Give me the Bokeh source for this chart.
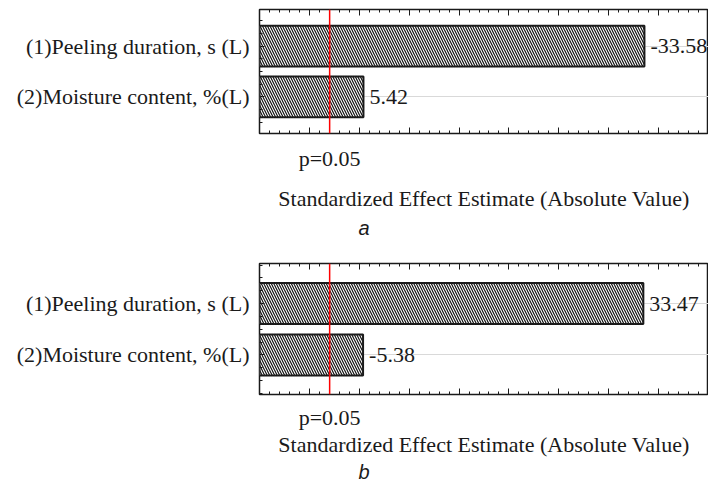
from bokeh.plotting import figure
from bokeh.models import (Range1d, FixedTicker, LinearAxis, Span, ColumnDataSource,
                          Title, Grid)
from bokeh.layouts import column
from bokeh.embed import file_html
from bokeh.resources import INLINE
from bokeh.core.properties import value

# ---- data ----
factors = ["(1)Peeling duration, s (L)", "(2)Moisture content, %(L)"]
factor_pos = [1, 2]
effects_a = [-33.58, 5.42]
effects_b = [33.47, -5.38]
p_crit = 2.03
p_label = "p=0.05"
x_min, x_max = -5, 40
x_major = [-5, 0, 5, 10, 15, 20, 25, 30, 35, 40]
x_minor = list(range(-5, 41))
y_minor = [0.25, 0.5, 0.75, 1.25, 1.5, 1.75, 2.25, 2.5, 2.75]
panel_tags = ["a", "b"]
x_title = "Standardized Effect Estimate (Absolute Value)"

SERIF = "Liberation Serif"
TXT = "#1a1a1a"


def make_panel(effects, tag, height, y_lo, y_hi, top_border, bottom_border,
               tick_standoff, label_standoff, title_standoff):
    p = figure(width=708, height=height,
               x_range=Range1d(x_min, x_max), y_range=Range1d(y_hi, y_lo),
               x_axis_type=None, y_axis_type=None,
               output_backend="svg", toolbar_location=None,
               min_border_left=259, min_border_right=0,
               min_border_top=top_border, min_border_bottom=bottom_border)
    p.outline_line_color = "#1a1a1a"
    p.outline_line_width = 1.5
    p.background_fill_color = "white"
    p.border_fill_color = "white"

    grid = Grid(dimension=1, ticker=FixedTicker(ticks=factor_pos),
                grid_line_color="#d9d9d9", grid_line_width=1)
    p.add_layout(grid, "center")

    src = ColumnDataSource(dict(
        y=factor_pos,
        left=[x_min] * len(effects),
        right=[abs(v) for v in effects],
        lbl=["%.2f" % v for v in effects],
    ))
    p.hbar(y="y", left="left", right="right", height=0.8, source=src,
           fill_color="white", line_color="#1a1a1a", line_width=2,
           hatch_pattern="\\", hatch_color="#111111", hatch_scale=5,
           hatch_weight=1.2)
    p.text(x="right", y="y", text="lbl", source=src, x_offset=6,
           text_baseline="middle", text_align="left",
           text_font=value(SERIF), text_font_size="22px", text_color=TXT)

    p.add_layout(Span(location=p_crit, dimension="height",
                      line_color="#ff0000", line_width=1.5))

    overrides = {t: "" for t in x_major}
    overrides[p_crit] = p_label
    xb = LinearAxis(ticker=FixedTicker(ticks=x_major + [p_crit], minor_ticks=x_minor),
                    major_label_overrides=overrides,
                    axis_label=x_title,
                    major_tick_in=6, major_tick_out=0,
                    minor_tick_in=3, minor_tick_out=0,
                    major_tick_line_color="#1a1a1a", minor_tick_line_color="#1a1a1a",
                    axis_line_color=None,
                    major_label_standoff=tick_standoff,
                    major_label_text_font=SERIF, major_label_text_font_size="22px",
                    major_label_text_color=TXT,
                    axis_label_standoff=label_standoff,
                    axis_label_text_font=SERIF, axis_label_text_font_size="22px",
                    axis_label_text_font_style="normal", axis_label_text_color=TXT)
    p.add_layout(xb, "below")

    xt = LinearAxis(ticker=FixedTicker(ticks=x_major, minor_ticks=x_minor),
                    major_label_overrides={t: "" for t in x_major},
                    major_label_text_font_size="1px", major_label_standoff=0,
                    major_tick_in=6, major_tick_out=0,
                    minor_tick_in=3, minor_tick_out=0,
                    major_tick_line_color="#1a1a1a", minor_tick_line_color="#1a1a1a",
                    axis_line_color=None)
    p.add_layout(xt, "above")

    yl = LinearAxis(ticker=FixedTicker(ticks=factor_pos, minor_ticks=y_minor),
                    major_label_overrides={i: f for i, f in zip(factor_pos, factors)},
                    major_tick_in=5, major_tick_out=0,
                    minor_tick_in=3, minor_tick_out=0,
                    major_tick_line_color="#1a1a1a", minor_tick_line_color="#1a1a1a",
                    axis_line_color=None,
                    major_label_standoff=10,
                    major_label_text_font=SERIF, major_label_text_font_size="22px",
                    major_label_text_color=TXT)
    p.add_layout(yl, "left")

    p.add_layout(Title(text=tag, align="left", offset=99,
                       text_font="Liberation Sans", text_font_style="italic",
                       text_font_size="20px", text_color=TXT,
                       standoff=title_standoff), "below")
    return p


pa = make_panel(effects_a, panel_tags[0], 240, 0.28, 2.72, 9, 103, 12, 12, 3)
pb = make_panel(effects_b, panel_tags[1], 245, 0.22, 2.77, 23, 91, 10, -1, -2)

layout = column(pa, pb, spacing=0)
open("out.html", "w").write(file_html(layout, INLINE))
